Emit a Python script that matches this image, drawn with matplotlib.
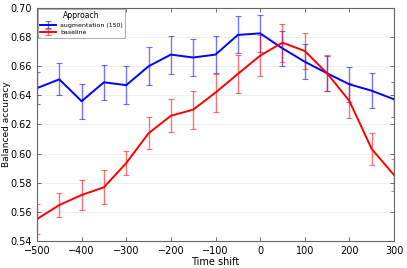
import matplotlib
matplotlib.use("Agg")
import matplotlib.pyplot as plt

shifts = [-500, -450, -400, -350, -300, -250, -200, -150, -100, -50, 0, 50, 100, 150, 200, 250, 300]
aug_mean = [0.645, 0.651, 0.636, 0.649, 0.647, 0.660, 0.668, 0.666, 0.668, 0.6815, 0.6826, 0.6723, 0.6631, 0.6552, 0.6476, 0.6432, 0.6373]
aug_err = [0.011, 0.011, 0.012, 0.012, 0.013, 0.013, 0.013, 0.013, 0.0126, 0.0127, 0.0127, 0.012, 0.012, 0.012, 0.012, 0.012, 0.012]
base_mean = [0.5551, 0.5647, 0.5716, 0.5769, 0.5935, 0.614, 0.626, 0.6302, 0.6419, 0.6547, 0.6673, 0.6762, 0.6705, 0.6552, 0.6362, 0.6032, 0.5853]
base_err = [0.010, 0.0085, 0.010, 0.0117, 0.008, 0.011, 0.0114, 0.013, 0.013, 0.013, 0.014, 0.013, 0.0124, 0.0124, 0.012, 0.011, 0.011]
labels = ["augmentation (150)", "baseline"]

plt.rcParams['font.family'] = ['DejaVu Sans']
fig = plt.figure(figsize=(4.07, 2.68), dpi=100)
ax = fig.add_axes([37/407, 1-241/268, (394-37)/407, (241-8)/268])

ax.yaxis.grid(True, color='#eeeeee', linewidth=0.8)
ax.set_axisbelow(True)

for m, e, c, lab in [(aug_mean, aug_err, '#0000ff', labels[0]), (base_mean, base_err, '#ff0000', labels[1])]:
    ax.errorbar(shifts, m, yerr=e, color=c, ecolor=c, elinewidth=1.0, capsize=2,
                capthick=0.8, linewidth=1.4, label=lab)
for cont in ax.containers:
    for art in cont[1]:
        art.set_alpha(0.55)
    for art in cont[2]:
        art.set_alpha(0.55)

ax.set_xlim(-500, 300)
ax.set_ylim(0.54, 0.70)
ax.set_xticks(range(-500, 301, 100))
ax.set_yticks([0.54, 0.56, 0.58, 0.60, 0.62, 0.64, 0.66, 0.68, 0.70])
ax.tick_params(direction='in', top=True, right=True, labelsize=7, length=3, color='#555555', width=0.6)
for s in ax.spines.values():
    s.set_color('#666666')
    s.set_linewidth(0.8)
ax.set_xlabel("Time shift", fontsize=7, labelpad=1)
ax.set_ylabel("Balanced accuracy", fontsize=6.5)
ax.yaxis.set_label_coords(-0.072, 0.5)

leg = ax.legend(title="Approach", loc='upper left', fontsize=4.5, title_fontsize=5.5,
                frameon=True, fancybox=False, borderpad=0.4, labelspacing=0.35,
                handlelength=2.6, handletextpad=0.6, borderaxespad=0.1)
leg.get_frame().set_edgecolor('#888888')
leg.get_frame().set_linewidth(0.6)

fig.savefig("out.png", dpi=100)
